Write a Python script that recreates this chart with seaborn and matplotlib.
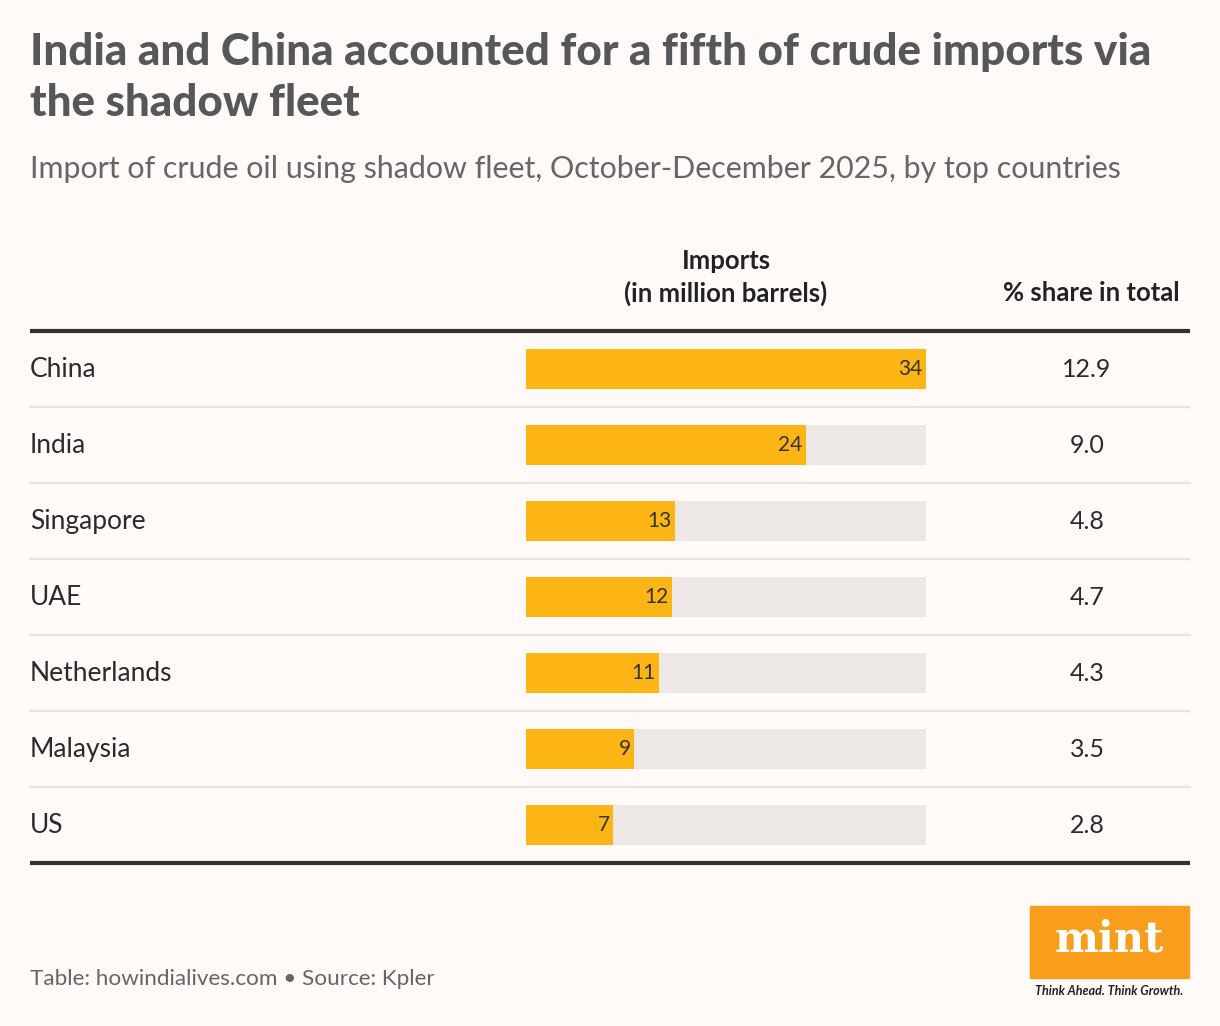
import numpy as np
import pandas as pd
import matplotlib.pyplot as plt
import matplotlib.transforms as mtransforms
from matplotlib.patches import Rectangle
import seaborn as sns

# data
countries = ['China', 'India', 'Singapore', 'UAE', 'Netherlands', 'Malaysia', 'US']
imports_mb = [34.0, 23.8, 12.7, 12.4, 11.3, 9.2, 7.4]
import_labels = ['34', '24', '13', '12', '11', '9', '7']
share_pct = ['12.9', '9.0', '4.8', '4.7', '4.3', '3.5', '2.8']

BG = '#FFF9F8'
BAR = '#FDB515'
TRACK = '#EDE7E6'
W, H = 1220, 1026

sns.set_theme(style='white')
plt.rcParams['font.family'] = ['Lato', 'DejaVu Sans']

df = pd.DataFrame({'country': countries, 'imports': imports_mb})
df['track'] = max(imports_mb)

fig = plt.figure(figsize=(W / 100, H / 100), dpi=100, facecolor=BG)

def fx(px):
    return px / W

def fy(px):
    return 1 - px / H

# bar column axes: x 526..926, table body 331..863
ax = fig.add_axes([fx(526), fy(863), 400 / W, 532 / H])
ax.set_facecolor('none')
sns.barplot(data=df, y='country', x='track', color=TRACK, width=40 / 76,
            saturation=1, linewidth=0, ax=ax, orient='h')
sns.barplot(data=df, y='country', x='imports', color=BAR, width=40 / 76,
            saturation=1, linewidth=0, ax=ax, orient='h')
ax.set_xlim(0, max(imports_mb))
ax.set_ylim(len(countries) - 0.5, -0.5)
ax.axis('off')

# bar value labels inside the bar end
for i, (v, lab) in enumerate(zip(imports_mb, import_labels)):
    ax.text(v - 0.3, i, lab, ha='right', va='center', fontsize=15,
            color='#333333')

row_tr = mtransforms.blended_transform_factory(fig.transFigure, ax.transData)

for i, (c, s) in enumerate(zip(countries, share_pct)):
    ax.text(fx(30), i, c, transform=row_tr, ha='left', va='center',
            fontsize=19, color='#2b2b2b')
    ax.text(fx(1087), i, s, transform=row_tr, ha='center', va='center',
            fontsize=18, color='#2b2b2b')

# light separators between rows
for i in range(len(countries) - 1):
    ax.plot([fx(30), fx(1190)], [i + 0.5, i + 0.5], transform=row_tr,
            color='#EAE3E2', lw=1.6, clip_on=False)

# heavy top/bottom rules
for yv in [-0.5, len(countries) - 0.5]:
    ax.plot([fx(30), fx(1190)], [yv, yv], transform=row_tr,
            color='#333333', lw=3, clip_on=False, solid_capstyle='butt')

# title and subtitle
fig.text(fx(30), fy(52), 'India and China accounted for a fifth of crude imports via',
         fontsize=31.7, fontweight='black', color='#55575A', va='center')
fig.text(fx(30), fy(103), 'the shadow fleet',
         fontsize=31.7, fontweight='black', color='#55575A', va='center')
fig.text(fx(30), fy(169),
         'Import of crude oil using shadow fleet, October-December 2025, by top countries',
         fontsize=21.9, color='#666666', va='center')

# column headers
fig.text(fx(726), fy(261), 'Imports', ha='center', va='center',
         fontsize=18.5, fontweight='bold', color='#222222')
fig.text(fx(726), fy(293), '(in million barrels)', ha='center', va='center',
         fontsize=18.5, fontweight='bold', color='#222222')
fig.text(fx(1180), fy(293), '% share in total', ha='right', va='center',
         fontsize=18.5, fontweight='bold', color='#222222')

# footer
fig.text(fx(30), fy(979), 'Table: howindialives.com \u2022 Source: Kpler',
         fontsize=16.2, color='#666666', va='center')

# mint logo
fig.patches.append(Rectangle((fx(1030), fy(978)), 159 / W, 72 / H,
                             transform=fig.transFigure, color='#F99D1C'))
fig.text(fx(1109), fy(940), 'mint', ha='center', va='center', fontsize=30,
         fontweight='bold', color='white', family=['DejaVu Serif'])
fig.text(fx(1109), fy(991), 'Think Ahead. Think Growth.', ha='center', va='center',
         fontsize=9, fontweight='bold', fontstyle='italic', color='#222222')

fig.savefig('out.png', dpi=100, facecolor=BG)
